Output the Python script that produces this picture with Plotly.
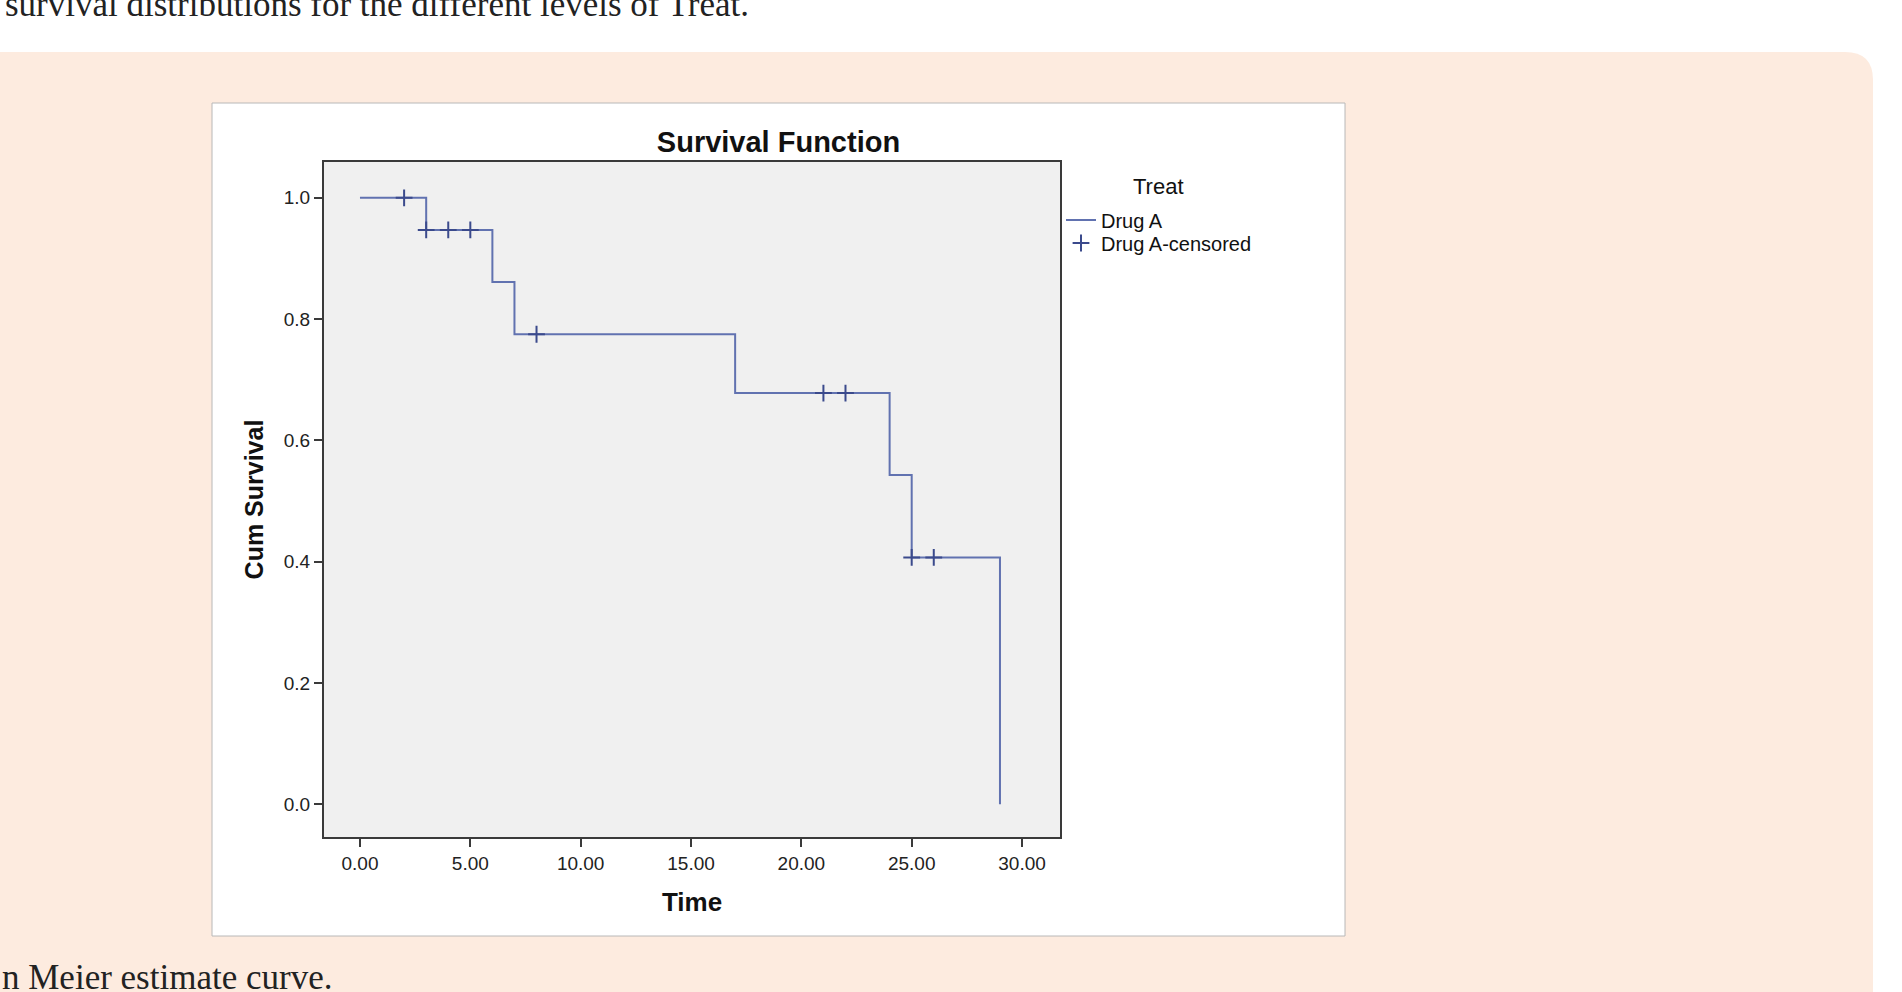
import plotly.graph_objects as go

# ---- data ----
step_times = [0, 3, 6, 7, 17, 24, 25, 29]
step_survival = [1.0, 0.947, 0.861, 0.775, 0.678, 0.543, 0.407, 0.0]
censor_times = [2, 3, 4, 5, 8, 21, 22, 25, 26]
censor_survival = [1.0, 0.947, 0.947, 0.947, 0.775, 0.678, 0.678, 0.407, 0.407]
x_ticks = [0, 5, 10, 15, 20, 25, 30]
x_tick_labels = ["0.00", "5.00", "10.00", "15.00", "20.00", "25.00", "30.00"]
y_ticks = [0.0, 0.2, 0.4, 0.6, 0.8, 1.0]
y_tick_labels = ["0.0", "0.2", "0.4", "0.6", "0.8", "1.0"]
top_text = "survival distributions for the different levels of Treat."
bottom_text = "n Meier estimate curve."
legend_title = "Treat"

W, H = 1902, 992
L, R, T, B = 324, 1060, 162, 837  # plot area in pixels
PW, PH = R - L, B - T


def fx(p):
    return (p - L) / PW


def fy(p):
    return 1 - (p - T) / PH


SANS = "Liberation Sans, Arial, sans-serif"
SERIF = "Liberation Serif, Times New Roman, serif"
LINE_COLOR = "#6172b0"
MARK_COLOR = "#3b4a8c"

fig = go.Figure()
fig.add_trace(go.Scatter(
    x=step_times, y=step_survival, mode="lines", name="Drug A", legend="legend",
    line=dict(shape="hv", color=LINE_COLOR, width=2),
))
fig.add_trace(go.Scatter(
    x=censor_times, y=censor_survival, mode="markers", name="Drug A-censored", legend="legend2",
    marker=dict(symbol="cross-thin", size=12, line=dict(color=MARK_COLOR, width=2), color=MARK_COLOR),
))

# background shapes
rr = 28
x0p, x1p = fx(0), fx(1873)
ytp, ybp = fy(52), fy(1000)
rx = rr / PW
ry = rr / PH
peach_path = (
    f"M {x0p},{ybp} L {x0p},{ytp} L {x1p - rx},{ytp} "
    f"Q {x1p},{ytp} {x1p},{ytp - ry} L {x1p},{ybp} Z"
)
shapes = [
    dict(type="path", xref="paper", yref="paper", path=peach_path,
         fillcolor="#fdebdf", line=dict(width=0), layer="below"),
    dict(type="rect", xref="paper", yref="paper", x0=fx(212), x1=fx(1345), y0=fy(936), y1=fy(103),
         fillcolor="#ffffff", line=dict(color="#b8b8b8", width=1), layer="below"),
    dict(type="rect", xref="paper", yref="paper", x0=0, x1=1, y0=0, y1=1,
         fillcolor="#f0f0f0", line=dict(width=0), layer="below"),
]

annotations = [
    dict(text=top_text, xref="paper", yref="paper", x=fx(3), y=fy(5), xanchor="left", yanchor="middle",
         showarrow=False, font=dict(family=SERIF, size=35, color="#222222")),
    dict(text=bottom_text, xref="paper", yref="paper", x=fx(0), y=fy(977), xanchor="left", yanchor="middle",
         showarrow=False, font=dict(family=SERIF, size=35, color="#222222")),
    dict(text=legend_title, xref="paper", yref="paper", x=fx(1158), y=fy(187), xanchor="center",
         yanchor="middle", showarrow=False, font=dict(family=SANS, size=22, color="#111111")),
]

legend_font = dict(family=SANS, size=20, color="#111111")

fig.update_layout(
    width=W, height=H,
    margin=dict(l=L, r=W - R, t=T, b=H - B, pad=0),
    paper_bgcolor="#ffffff", plot_bgcolor="#f0f0f0",
    title=dict(text="<b>Survival Function</b>", xref="container", yref="container",
               x=778.5 / W, y=1 - 142 / H, xanchor="center", yanchor="middle",
               font=dict(family=SANS, size=29, color="#111111")),
    shapes=shapes, annotations=annotations,
    showlegend=True,
    legend=dict(
        font=legend_font,
        x=fx(1061), y=fy(200.5), xanchor="left", yanchor="top",
        bgcolor="rgba(0,0,0,0)", itemwidth=30, borderwidth=0,
    ),
    legend2=dict(
        font=legend_font,
        x=fx(1061), y=fy(223.5), xanchor="left", yanchor="top",
        bgcolor="rgba(0,0,0,0)", itemwidth=30, borderwidth=0,
    ),
    font=dict(family=SANS, color="#222222"),
)

fig.update_xaxes(
    range=[-1.63, 31.72], tickmode="array", tickvals=x_ticks, ticktext=x_tick_labels,
    showgrid=False, zeroline=False, showline=True, mirror=True, linecolor="#3a3a3a", linewidth=2,
    ticks="outside", ticklen=8, tickwidth=2, tickcolor="#3a3a3a",
    tickfont=dict(family=SANS, size=19, color="#222222"),
    title=dict(text="<b>Time</b>", font=dict(family=SANS, size=26, color="#111111"), standoff=20),
)
fig.update_yaxes(
    range=[-0.054, 1.059], tickmode="array", tickvals=y_ticks, ticktext=y_tick_labels,
    showgrid=False, zeroline=False, showline=True, mirror=True, linecolor="#3a3a3a", linewidth=2,
    ticks="outside", ticklen=8, tickwidth=2, tickcolor="#3a3a3a",
    tickfont=dict(family=SANS, size=19, color="#222222"),
    title=dict(text="<b>Cum Survival</b>", font=dict(family=SANS, size=25, color="#111111"), standoff=13),
)

fig.write_html("out.html", config={"displayModeBar": False},
               post_script="document.body.style.margin='0';")
